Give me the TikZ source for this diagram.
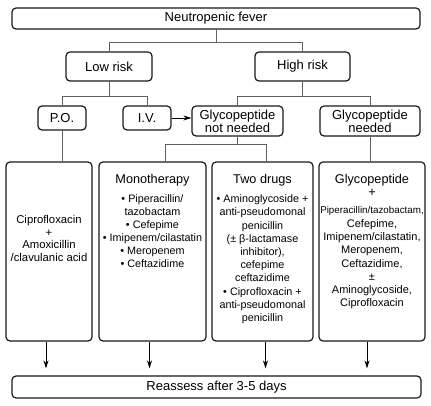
\documentclass[tikz,border=0pt]{standalone}
\usepackage{fontspec}
\setmainfont{Liberation Sans}
\usetikzlibrary{positioning,arrows.meta}

\begin{document}
\begin{tikzpicture}[x=1pt,y=-1pt,
    box/.style={draw=black!90,rounded corners=4pt,line width=1.2pt,inner sep=0pt,
      align=center,font=\fontsize{13}{11}\selectfont},
    bigbox/.style={box,minimum height=179pt},
    txt/.style={inner sep=0pt,align=center},
    conn/.style={draw=black!62,line width=0.9pt},
    arr/.style={draw=black,line width=0.9pt,-{Stealth[length=8pt,width=5pt]}}]

    \useasboundingbox (0,0) rectangle (431,406);

    \node[box,minimum width=408pt,minimum height=21pt] (fever) at (216,18.5) {Neutropenic fever};
    \node[box,minimum width=86pt,minimum height=29pt] (low) at (109,66.5) {Low risk};
    \node[box,minimum width=95pt,minimum height=29pt] (high) at (302.5,66.5) {High risk};
    \node[box,minimum width=48pt,minimum height=24pt] (po) at (62,118) {P.O.};
    \node[box,minimum width=48pt,minimum height=24pt] (iv) at (147,118) {I.V.};
    \node[box,minimum width=91pt,minimum height=30pt] (gnot) at (237.5,121) {Glycopeptide\\not needed};
    \node[box,minimum width=100pt,minimum height=30pt] (gneed) at (370,121) {Glycopeptide\\needed};

    \node[bigbox,minimum width=86pt] (b1) at (49,251.5) {};
    \node[bigbox,minimum width=107pt] (b2) at (152.5,251.5) {};
    \node[bigbox,minimum width=101pt] (b3) at (262.5,251.5) {};
    \node[bigbox,minimum width=106pt] (b4) at (372,251.5) {};
    \node[box,minimum width=409pt,minimum height=22pt] (re) at (216.5,387) {Reassess after 3-5 days};

    \node[txt,font=\fontsize{11.3}{12.5}\selectfont,below=54pt of b1.north] (b1t)
      {Ciprofloxacin\\+\\Amoxicillin\\/clavulanic acid};
    \node[txt,font=\fontsize{12.7}{13}\selectfont,below=13pt of b2.north] (mono) {Monotherapy};
    \node[txt,font=\fontsize{10.8}{13}\selectfont,below=8pt of mono] (monolist)
      {• Piperacillin/\\tazobactam\\• Cefepime\\• Imipenem/cilastatin\\• Meropenem\\• Ceftazidime};
    \node[txt,font=\fontsize{12.7}{13}\selectfont,below=13pt of b3.north] (two) {Two drugs};
    \node[txt,font=\fontsize{10.8}{13.2}\selectfont,below=8pt of two] (twolist)
      {• Aminoglycoside +\\anti-pseudomonal\\penicillin\\(± β-lactamase\\inhibitor),\\cefepime\\ceftazidime\\• Ciprofloxacin +\\anti-pseudomonal\\penicillin};
    \node[txt,font=\fontsize{12.7}{12.5}\selectfont,below=13pt of b4.north] (gly) {Glycopeptide\\+};
    \node[txt,font=\fontsize{11}{13.3}\selectfont,below=10pt of gly] (glylist)
      {{\fontsize{9.8}{13.3}\selectfont Piperacillin/tazobactam,}\\Cefepime,\\Imipenem/cilastatin,\\Meropenem,\\Ceftazidime,\\±\\Aminoglycoside,\\Ciprofloxacin};

    \coordinate[below=13pt of fever.south] (s0);
    \coordinate[below=15pt of low.south] (s1);
    \coordinate[below=15pt of high.south] (s2);
    \coordinate[below=8pt of gnot.south] (s3);

    \path[conn] (fever.south) -- (s0);
    \path[conn] (low.north) |- (s0) -| (high.north);
    \path[conn] (low.south) -- (s1);
    \path[conn] (po.north) |- (s1) -| (iv.north);
    \path[conn] (high.south) -- (s2);
    \path[conn] (gnot.north) |- (s2) -| (gneed.north);
    \path[conn] (po.south) -- (po.south |- b1.north);
    \path[conn] (gnot.south) -- (s3);
    \path[conn] ([xshift=13pt]b2.north) |- (s3) -| ([xshift=4pt]b3.north);
    \path[conn] (gneed.south) -- (gneed.south |- b4.north);
    \path[arr] (iv.east) -- (iv.east -| gnot.west);

    \path[arr,shorten >=7pt] ([xshift=-3pt]b1.south) -- ([xshift=-3pt]b1.south |- re.north);
    \path[arr,shorten >=7pt] ([xshift=-3pt]b2.south) -- ([xshift=-3pt]b2.south |- re.north);
    \path[arr,shorten >=7pt] ([xshift=3pt]b3.south) -- ([xshift=3pt]b3.south |- re.north);
    \path[arr,shorten >=7pt] ([xshift=-5pt]b4.south) -- ([xshift=-5pt]b4.south |- re.north);
    \end{tikzpicture}
\end{document}
